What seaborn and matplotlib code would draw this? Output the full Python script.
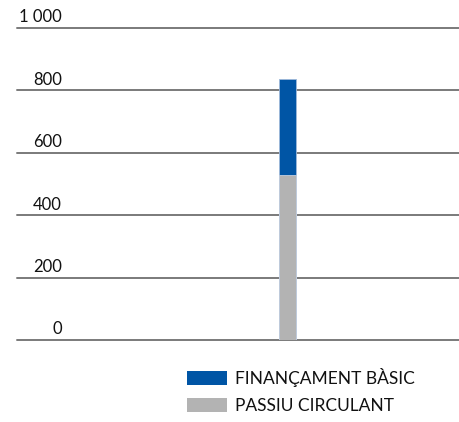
import matplotlib
matplotlib.use("Agg")
import matplotlib.pyplot as plt
import matplotlib.transforms as mtransforms
from matplotlib.patches import Patch
import seaborn as sns
import pandas as pd

# Data
categories = ["2010"]
passiu_circulant = [530]
financament_basic = [306]
yticks = [0, 200, 400, 600, 800, 1000]
ytick_labels = ["0", "200", "400", "600", "800", "1 000"]
series_names = ["FINANÇAMENT BÀSIC", "PASSIU CIRCULANT"]

BLUE = "#0055A5"
GREY = "#B3B3B3"

sns.set_theme(style="white")
plt.rcParams["font.family"] = ["Lato", "DejaVu Sans"]

W, H = 460, 422
fig = plt.figure(figsize=(W / 100, H / 100), dpi=100)
left_px, right_px, top_px, bot_px = 17, 460, 28, 340
ax = fig.add_axes([left_px / W, 1 - bot_px / H, (right_px - left_px) / W, (bot_px - top_px) / H])

df = pd.DataFrame({
    "cat": categories,
    "total": [p + f for p, f in zip(passiu_circulant, financament_basic)],
    "passiu": passiu_circulant,
})

sns.barplot(data=df, x="cat", y="total", color=BLUE, saturation=1, width=0.8,
            edgecolor="#9fb9da", linewidth=0.6, ax=ax, zorder=3)
sns.barplot(data=df, x="cat", y="passiu", color=GREY, saturation=1, width=0.8,
            edgecolor="#c3cfe0", linewidth=0.6, ax=ax, zorder=3)

L = 0.8 / (17 / 443)
ax.set_xlim(-0.6106 * L, 0.3894 * L)
ax.set_ylim(0, 1000)

for v in yticks:
    ax.axhline(v, color="#7a7a7a", linewidth=1.4, zorder=1, clip_on=False)

ax.set_xticks([])
ax.set_yticks([])
ax.set_xlabel("")
ax.set_ylabel("")
for s in ax.spines.values():
    s.set_visible(False)

trans = mtransforms.offset_copy(ax.get_yaxis_transform(), fig=fig, x=0, y=4, units="points")
for v, lab in zip(yticks, ytick_labels):
    ax.text((62 - left_px) / (right_px - left_px), v, lab, transform=trans,
            ha="right", va="baseline", fontsize=12, color="#111111")

handles = [Patch(facecolor=BLUE, edgecolor="none"), Patch(facecolor=GREY, edgecolor="none")]
fs = 12.5
fs_px = fs * 100 / 72
fig.legend(handles, series_names, loc="upper left",
           bbox_to_anchor=(187 / W, 1 - 368 / H), frameon=False,
           fontsize=fs, handlelength=40 / fs_px, handleheight=16 / fs_px,
           handletextpad=8 / fs_px, labelspacing=0.62, borderpad=0, borderaxespad=0,
           labelcolor="#111111")

fig.savefig("out.png", dpi=100)
